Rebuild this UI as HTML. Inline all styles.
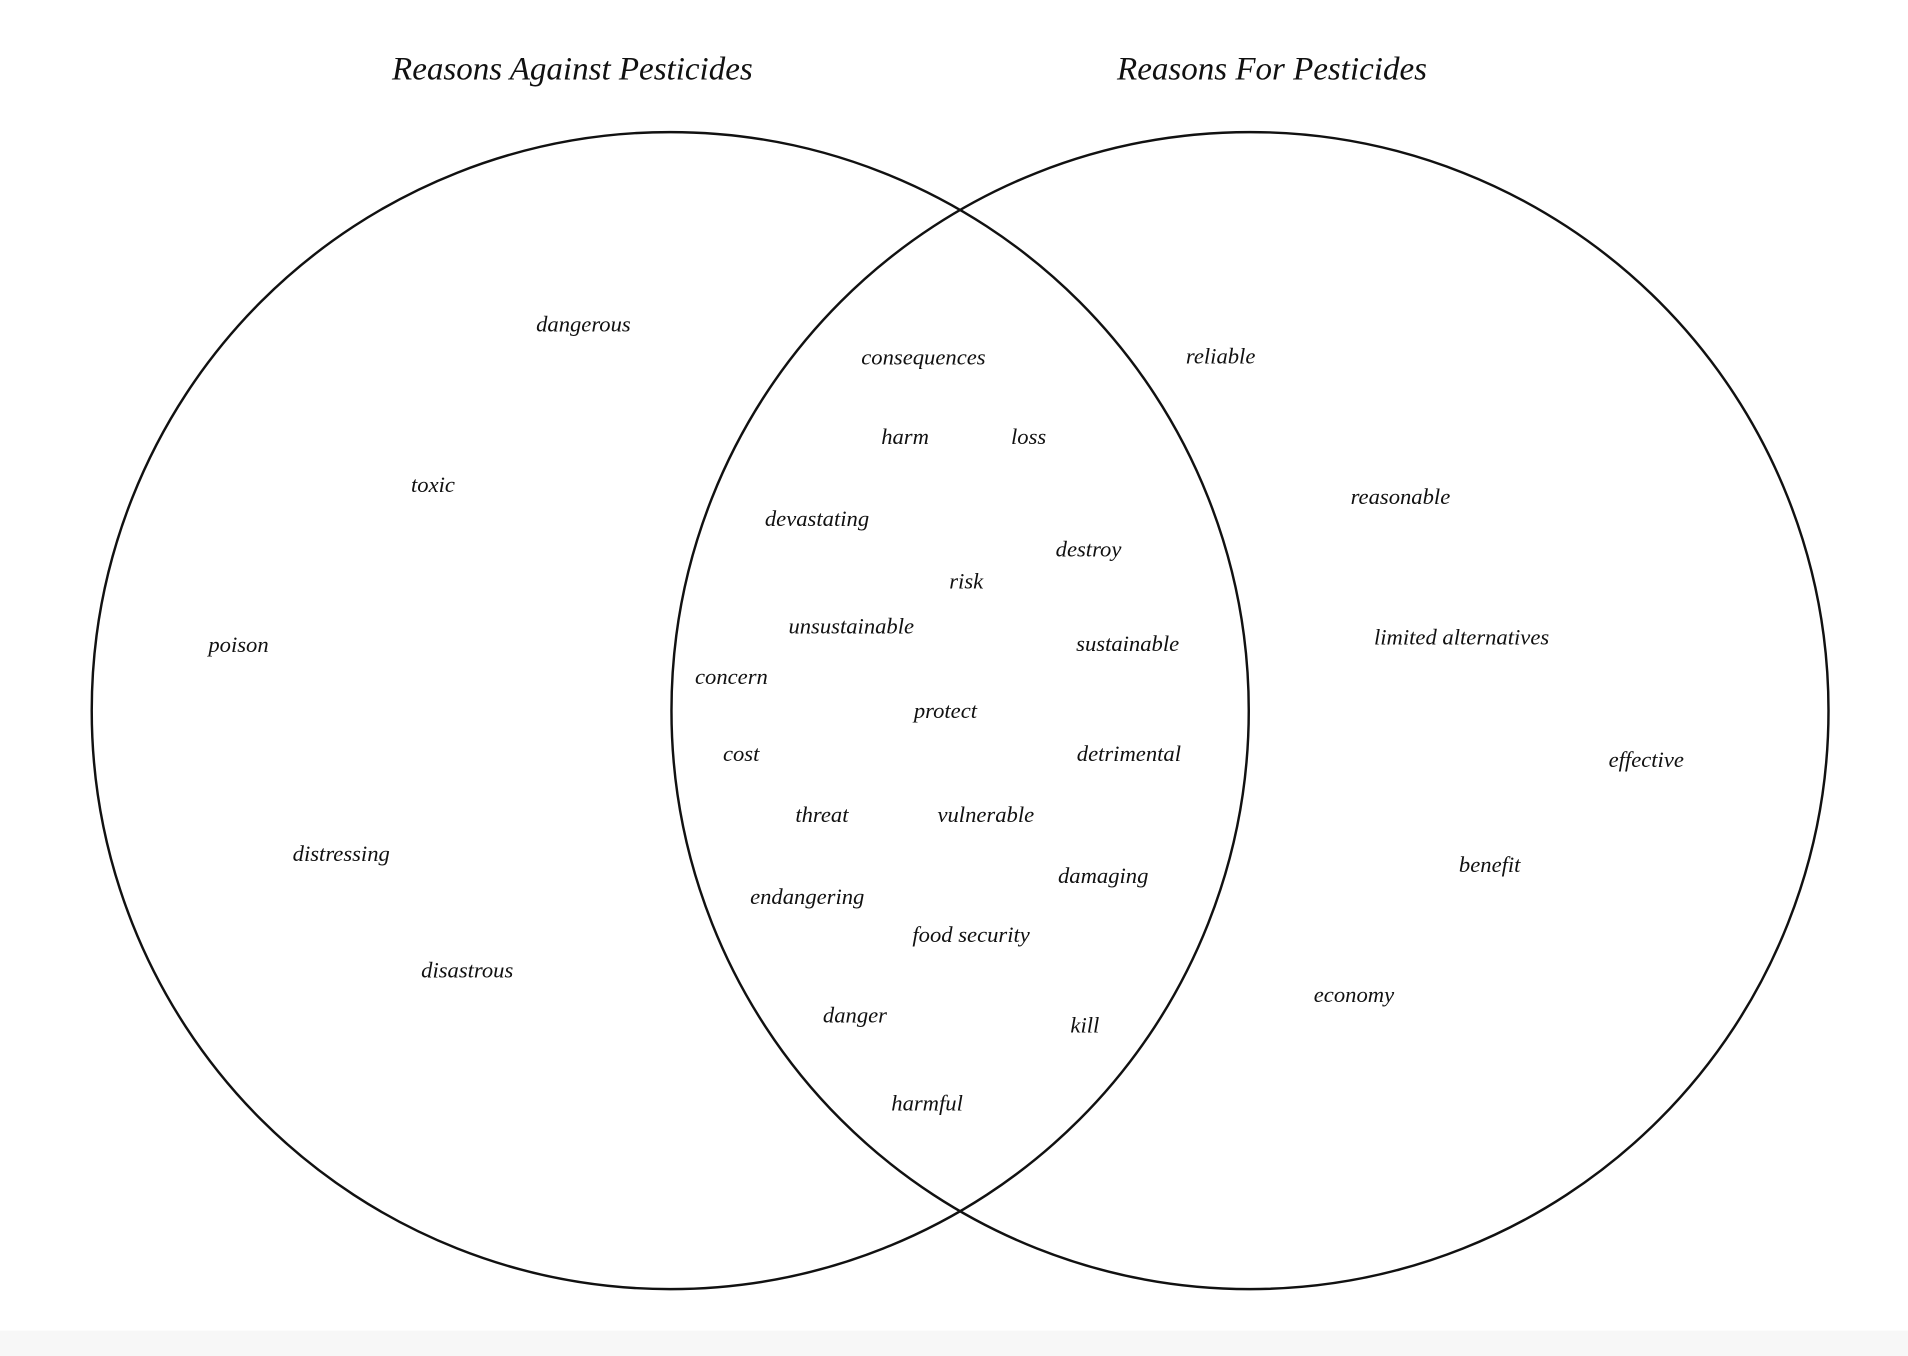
<!DOCTYPE html>
<html><head><meta charset="utf-8"><style>
html,body{margin:0;padding:0;background:#fff;}
svg{display:block;}
text{font-family:"Liberation Serif",serif;font-style:italic;fill:#111;text-anchor:middle;dominant-baseline:central;}
</style></head><body>
<svg width="1908" height="1356" viewBox="0 0 1560 1108.7" preserveAspectRatio="none" xmlns="http://www.w3.org/2000/svg">
<rect x="0" y="1088" width="1560" height="21" fill="#f7f7f7"/>
<circle cx="548" cy="581" r="473" fill="none" stroke="#111" stroke-width="2"/>
<circle cx="1022" cy="581" r="473" fill="none" stroke="#111" stroke-width="2"/>
<g font-size="27">
<text x="468" y="57">Reasons Against Pesticides</text>
<text x="1040" y="57">Reasons For Pesticides</text>
</g>
<g font-size="18.5">
<text x="477" y="265">dangerous</text>
<text x="354" y="396">toxic</text>
<text x="195" y="527">poison</text>
<text x="279" y="698">distressing</text>
<text x="382" y="793">disastrous</text>
<text x="755" y="292">consequences</text>
<text x="740" y="357">harm</text>
<text x="841" y="357">loss</text>
<text x="668" y="424">devastating</text>
<text x="890" y="449">destroy</text>
<text x="790" y="475">risk</text>
<text x="696" y="512">unsustainable</text>
<text x="922" y="526">sustainable</text>
<text x="598" y="553">concern</text>
<text x="773" y="581">protect</text>
<text x="606" y="616">cost</text>
<text x="923" y="616">detrimental</text>
<text x="672" y="666">threat</text>
<text x="806" y="666">vulnerable</text>
<text x="902" y="716">damaging</text>
<text x="660" y="733">endangering</text>
<text x="794" y="764">food security</text>
<text x="699" y="830">danger</text>
<text x="887" y="838">kill</text>
<text x="758" y="902">harmful</text>
<text x="998" y="291">reliable</text>
<text x="1145" y="406">reasonable</text>
<text x="1195" y="521">limited alternatives</text>
<text x="1346" y="621">effective</text>
<text x="1218" y="707">benefit</text>
<text x="1107" y="813">economy</text>
</g>
</svg>
</body></html>
